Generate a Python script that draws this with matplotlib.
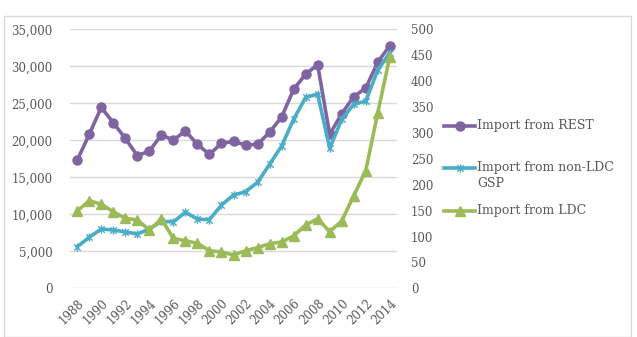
import matplotlib
matplotlib.use("Agg")
import matplotlib.pyplot as plt
from matplotlib.path import Path
from matplotlib.patches import Rectangle
from matplotlib.lines import Line2D

years = list(range(1988, 2015))
rest = [17300, 20800, 24450, 22370, 20260, 17920, 18550, 20710, 20030, 21250,
        19450, 18100, 19590, 19850, 19360, 19450, 21080, 23140, 26880, 28950,
        30210, 20800, 23590, 25890, 27060, 30570, 32780]
non_ldc_gsp = [5620, 6890, 8010, 7880, 7610, 7340, 8010, 9050, 8980, 10270,
               9360, 9270, 11250, 12600, 13050, 14320, 16750, 19220, 22830, 25800,
               26250, 18910, 22830, 24860, 25300, 29490, 31830]
ldc = [10440, 11840, 11350, 10350, 9460, 9230, 7880, 9360, 6750, 6430,
       6080, 5080, 4900, 4500, 5080, 5490, 6030, 6260, 7070, 8550,
       9400, 7650, 9090, 12510, 15890, 23720, 31290]
series_names = ["Import from REST", "Import from non-LDC\nGSP", "Import from LDC"]
left_ticks = list(range(0, 35001, 5000))
right_ticks = list(range(0, 501, 50))
xtick_years = list(range(1988, 2015, 2))

plt.rcParams['font.family'] = ['DejaVu Serif']
W, H = 637, 337
fig = plt.figure(figsize=(W/100, H/100), dpi=100)

# chart border
fig.patches.append(Rectangle((4/W, 0), (631-4)/W, (H-16)/H, transform=fig.transFigure,
                             fill=False, edgecolor='#d9d9d9', linewidth=1))

ax = fig.add_axes([70/W, 1-288.3/H, (397-70)/W, (288.3-29.3)/H])
ax2 = ax.twinx()

star = Path([(-1, -1), (1, 1), (-1, 1), (1, -1), (0, -1.3), (0, 1.3)],
            [Path.MOVETO, Path.LINETO, Path.MOVETO, Path.LINETO, Path.MOVETO, Path.LINETO])

c_rest, c_gsp, c_ldc = '#8064A2', '#4BACC6', '#9BBB59'
lw = 2.6
styles = [dict(color=c_rest, marker='o', ms=6.5),
          dict(color=c_gsp, marker=star, ms=6, mew=1.0),
          dict(color=c_ldc, marker='^', ms=6.5)]
for vals, st in zip([rest, non_ldc_gsp, ldc], styles):
    ax.plot(years, vals, lw=lw, zorder=3, **st)

ax.set_xlim(1987.4, 2014.6)
ax.set_ylim(0, 35000)
ax2.set_ylim(0, 500)
ax.set_yticks(left_ticks)
ax.set_yticklabels([f"{v:,}" for v in left_ticks])
ax2.set_yticks(right_ticks)
ax2.set_yticklabels([str(v) for v in right_ticks])
ax.set_xticks(xtick_years)
ax.set_xticklabels([str(y) for y in xtick_years], rotation=45, ha='right',
                   rotation_mode='anchor')
ax.grid(axis='y', color='#d9d9d9', lw=1)
ax.set_axisbelow(True)
for a in (ax, ax2):
    for s in a.spines.values():
        s.set_visible(False)
    a.tick_params(length=0, labelsize=8.5, labelcolor='#595959')
ax.tick_params(axis='y', pad=12.5)
ax2.tick_params(axis='y', pad=10)
ax.tick_params(axis='x', pad=6)

# legend drawn manually (handle aligned with first text line, like Excel)
leg_y = [126, 168, 211]
for name, st, yy in zip(series_names, styles, leg_y):
    fy = 1 - yy/H
    fig.add_artist(Line2D([444/W, 475/W], [fy, fy], transform=fig.transFigure,
                          lw=lw, color=st['color']))
    mk = {k: v for k, v in st.items() if k != 'color'}
    fig.add_artist(Line2D([459.5/W], [fy], transform=fig.transFigure, lw=0,
                          color=st['color'], **mk))
    fig.text(477/W, fy + 7/H, name, ha='left', va='top', fontsize=9,
             color='#595959', linespacing=1.35)

fig.savefig("out.png", dpi=100)
